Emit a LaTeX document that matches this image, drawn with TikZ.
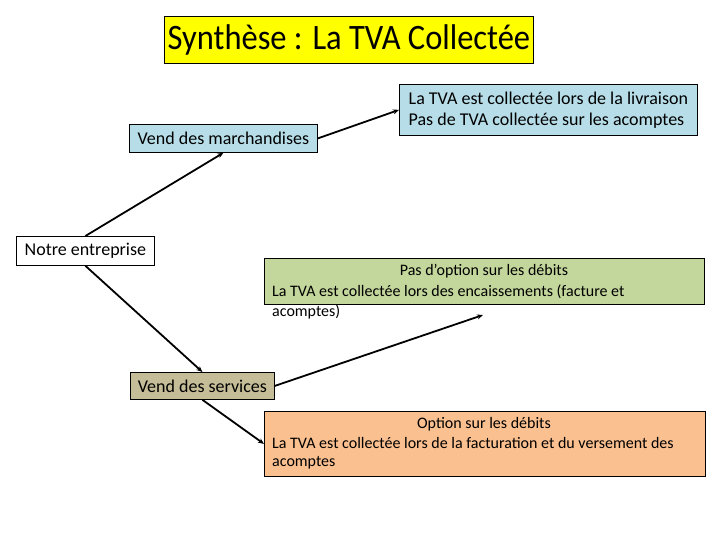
\documentclass[tikz,border=0pt]{standalone}
\usepackage{fontspec}
\setmainfont{Carlito}
\usetikzlibrary{arrows.meta}
\definecolor{ttlyellow}{HTML}{FFFF00}
\definecolor{ltblue}{HTML}{B7DEE8}
\definecolor{khaki}{HTML}{C4BD97}
\definecolor{ltgreen}{HTML}{C3D69B}
\definecolor{ltorange}{HTML}{FAC090}
\tikzset{
  box/.style={draw=black, line width=0.8pt, inner sep=0pt, anchor=north west},
  arr/.style={line width=1.8pt, -{Stealth[length=6pt,width=5pt]}},
  txt/.style={inner sep=0pt, font=\fontsize{18}{21}\selectfont},
  small/.style={inner sep=0pt, font=\fontsize{16}{19}\selectfont},
}
\begin{document}
\begin{tikzpicture}[x=1pt,y=-1pt]
\useasboundingbox (0,0) rectangle (720,540);
% title
\node[box, fill=ttlyellow, minimum width=369pt, minimum height=47pt] (title) at (164,16) {};
\node[inner sep=0pt, font=\fontsize{32.5}{36}\selectfont] (titletxt) at (title.center) {\scalebox{1}[1.1]{Synthèse : La TVA Collectée}};
% marchandises
\node[box, fill=ltblue, minimum width=188pt, minimum height=28pt] (march) at (129,124) {};
\node[txt] (marchtxt) at (march.center) {Vend des marchandises};
% livraison
\node[box, fill=ltblue, minimum width=298pt, minimum height=51pt] (livr) at (399,84) {};
\node[txt, align=left] (livrtxt) at (livr.center) {La TVA est collectée lors de la livraison\\Pas de TVA collectée sur les acomptes};
% notre entreprise
\node[box, fill=white, minimum width=138pt, minimum height=29pt] (notre) at (16,236) {};
\node[txt] (notretxt) at (notre.center) {Notre entreprise};
% green box
\node[box, fill=ltgreen, minimum width=440pt, minimum height=46pt] (debit) at (264,258) {};
\node[small] (debit1) at (484,271) {Pas d’option sur les débits};
\node[small, anchor=west] (debit2) at (272,292) {La TVA est collectée lors des encaissements (facture et};
\node[small, anchor=west] (debit3) at (272,312) {acomptes)};
\coordinate (debitin) at (483,315);
% services
\node[box, fill=khaki, minimum width=144pt, minimum height=27pt] (serv) at (130,372) {};
\node[txt] (servtxt) at (serv.center) {Vend des services};
% orange box
\node[box, fill=ltorange, minimum width=441pt, minimum height=65pt] (optdeb) at (264,411) {};
\node[small] (opt1) at (484,424) {Option sur les débits};
\node[small, anchor=west] (opt2) at (272,443) {La TVA est collectée lors de la facturation et du versement des};
\node[small, anchor=west] (opt3) at (272,463) {acomptes};
% arrows
\draw[arr] (notre.north) -- (march.south);
\draw[arr] (march.east) -- (livr.west);
\draw[arr] (notre.south) -- (serv.north);
\draw[arr] (serv.east) -- (debitin);
\draw[arr] (serv.south) -- (optdeb.west);
\end{tikzpicture}
\end{document}
